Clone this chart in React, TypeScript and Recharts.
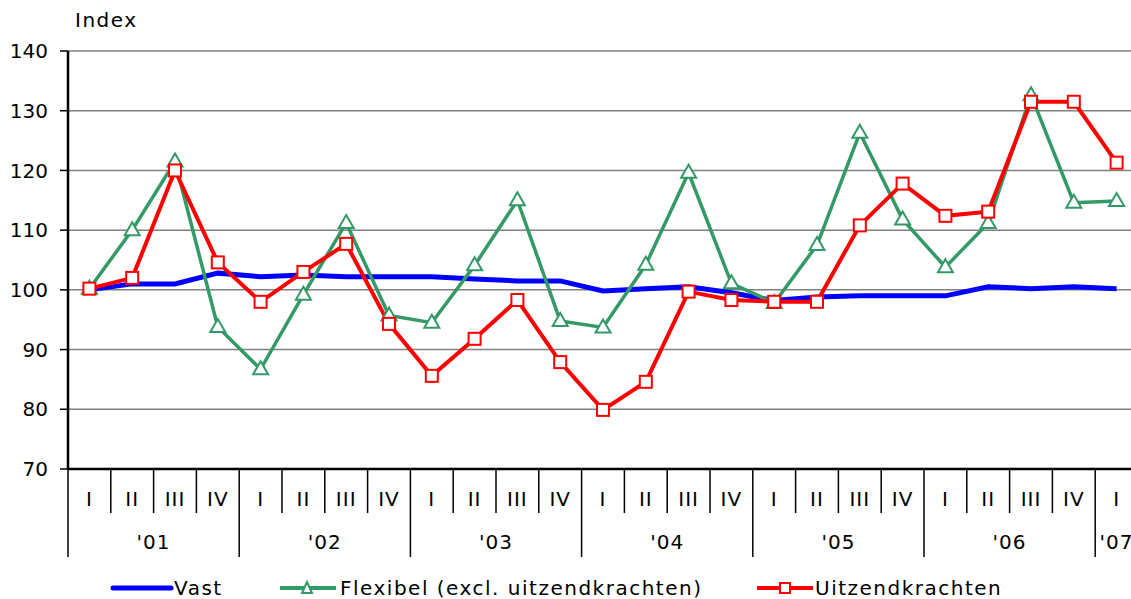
import React from "react";
import { LineChart, Line, XAxis, YAxis, CartesianGrid, Legend } from "recharts";

const quarters = ["I", "II", "III", "IV", "I", "II", "III", "IV", "I", "II", "III", "IV", "I", "II", "III", "IV", "I", "II", "III", "IV", "I", "II", "III", "IV", "I"];
const years = ["'01", "'01", "'01", "'01", "'02", "'02", "'02", "'02", "'03", "'03", "'03", "'03", "'04", "'04", "'04", "'04", "'05", "'05", "'05", "'05", "'06", "'06", "'06", "'06", "'07"];
const vast = [100, 101, 101, 102.8, 102.2, 102.5, 102.2, 102.2, 102.2, 101.8, 101.5, 101.5, 99.8, 100.2, 100.5, 99.5, 98.2, 98.8, 99, 99, 99, 100.5, 100.2, 100.5, 100.2];
const flexibel = [100.2, 110, 121.5, 93.8, 86.7, 99.2, 111.2, 95.7, 94.5, 104.1, 115, 94.8, 93.7, 104.2, 119.6, 101.1, 97.8, 107.5, 126.3, 111.8, 103.8, 111.2, 132.6, 114.6, 114.9];
const uitzend = [100.2, 102, 120, 104.6, 98, 103, 107.7, 94.3, 85.6, 91.8, 98.3, 87.9, 79.9, 84.6, 99.7, 98.3, 98, 98, 110.8, 117.8, 112.4, 113.1, 131.5, 131.5, 121.3];
const yTicks = [70, 80, 90, 100, 110, 120, 130, 140];

const data = quarters.map((q, i) => ({
  key: `${years[i]}-${q}-${i}`,
  q,
  year: years[i],
  vast: vast[i],
  flexibel: flexibel[i],
  uitzend: uitzend[i],
}));

const CHART_W = 1140;
const LEFT = 68;
const RIGHT = 2;
const TOP = 51;
const AXIS_Y = 469;
const BAND = (CHART_W - LEFT - RIGHT) / data.length;
const FONT = "'DejaVu Sans', Verdana, sans-serif";

const QuarterTick = (props: any) => {
  const { x, payload } = props;
  const i = payload.index;
  const first = i === 0 || years[i] !== years[i - 1];
  const left = x - BAND / 2;
  let yearLabel = null;
  if (first) {
    let n = 0;
    while (i + n < years.length && years[i + n] === years[i]) n++;
    yearLabel = (
      <text x={x + ((n - 1) / 2) * BAND} y={AXIS_Y + 80} textAnchor="middle" fontSize={20} fill="#000" fontFamily={FONT} letterSpacing={1}>
        {years[i]}
      </text>
    );
  }
  return (
    <g>
      <line x1={left} x2={left} y1={AXIS_Y} y2={first ? AXIS_Y + 88 : AXIS_Y + 44} stroke="#000" strokeWidth={1.5} />
      <text x={x} y={AXIS_Y + 37} textAnchor="middle" fontSize={20} fill="#000" fontFamily={FONT} letterSpacing={1}>
        {quarters[i]}
      </text>
      {yearLabel}
    </g>
  );
};

const Triangle = (props: any) => {
  const { cx, cy, index } = props;
  if (cx == null || cy == null) return <g key={index} />;
  return (
    <path key={index} d={`M${cx},${cy - 8} L${cx + 7.5},${cy + 5} L${cx - 7.5},${cy + 5} Z`} fill="#fff" stroke="#339966" strokeWidth={2} />
  );
};

const Square = (props: any) => {
  const { cx, cy, index } = props;
  if (cx == null || cy == null) return <g key={index} />;
  return <rect key={index} x={cx - 6} y={cy - 6} width={12} height={12} fill="#fff" stroke="#ff0000" strokeWidth={2} />;
};

const renderLegend = () => (
  <svg width={1131} height={30} style={{ display: "block" }}>
    <line x1={113} x2={171} y1={14} y2={14} stroke="#0000ff" strokeWidth={5} strokeLinecap="round" />
    <text x={174} y={21} fontSize={20} fontFamily={FONT} letterSpacing={1.5}>Vast</text>
    <line x1={280} x2={336} y1={14} y2={14} stroke="#339966" strokeWidth={4} />
    <path d="M307,8 L312,19 L302,19 Z" fill="#fff" stroke="#339966" strokeWidth={2} />
    <text x={340} y={21} fontSize={20} fontFamily={FONT} letterSpacing={1.5}>Flexibel (excl. uitzendkrachten)</text>
    <line x1={757} x2={813} y1={14} y2={14} stroke="#ff0000" strokeWidth={4} />
    <rect x={780} y={9} width={10} height={10} fill="#fff" stroke="#ff0000" strokeWidth={2} />
    <text x={815} y={21} fontSize={20} fontFamily={FONT} letterSpacing={1.5}>Uitzendkrachten</text>
  </svg>
);

export default function App() {
  return (
    <div style={{ position: "absolute", left: 0, top: 0, width: 1131, height: 599, overflow: "hidden", background: "#fff", fontFamily: FONT }}>
      <div style={{ position: "absolute", left: 75, top: 8, fontSize: 20, letterSpacing: 1.5 }}>Index</div>
      <LineChart width={CHART_W} height={599} data={data} margin={{ top: TOP, right: RIGHT, left: 0, bottom: 0 }}>
        <CartesianGrid vertical={false} stroke="#808080" strokeWidth={1.5} />
        <XAxis
          dataKey="key"
          interval={0}
          tick={<QuarterTick />}
          tickLine={false}
          axisLine={{ stroke: "#000", strokeWidth: 2.5 }}
          height={100}
          padding={{ left: BAND / 2, right: BAND / 2 }}
        />
        <YAxis
          domain={[70, 140]}
          ticks={yTicks}
          width={LEFT}
          tickSize={8}
          tickMargin={12}
          tick={{ fill: "#000", fontSize: 20, fontFamily: FONT }}
          tickLine={{ stroke: "#000", strokeWidth: 1.5 }}
          axisLine={{ stroke: "#000", strokeWidth: 2.5 }}
          interval={0}
        />
        <Legend content={renderLegend} wrapperStyle={{ position: "absolute", left: 0, top: 574, width: 1131 }} />
        <Line dataKey="vast" name="Vast" stroke="#0000ff" strokeWidth={5} dot={false} isAnimationActive={false} />
        <Line dataKey="flexibel" name="Flexibel (excl. uitzendkrachten)" stroke="#339966" strokeWidth={3.5} dot={<Triangle />} isAnimationActive={false} />
        <Line dataKey="uitzend" name="Uitzendkrachten" stroke="#ff0000" strokeWidth={4} dot={<Square />} isAnimationActive={false} />
      </LineChart>
    </div>
  );
}
